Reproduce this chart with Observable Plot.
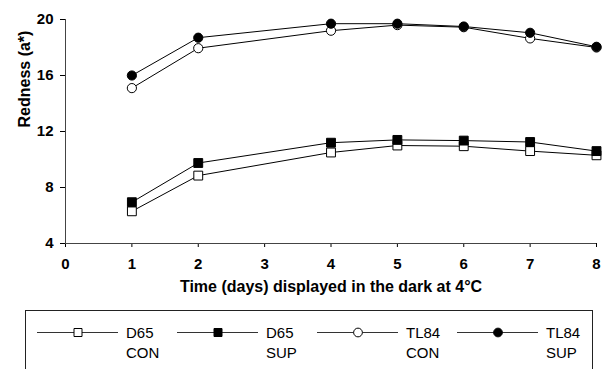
<!DOCTYPE html>
<html><head><meta charset="utf-8">
<script src="https://cdn.jsdelivr.net/npm/d3@7"></script>
<script src="https://cdn.jsdelivr.net/npm/@observablehq/plot@0.6"></script>
<style>
body{margin:0;background:#fff;font-family:"Liberation Sans",Arial,sans-serif;}
#wrap{position:relative;width:602px;height:369px;overflow:hidden;}
#legend{position:absolute;left:25px;top:310px;}
</style>
</head><body><div id="wrap"><div id="chart"></div><div id="legend"></div></div>
<script>
const days = [1, 2, 4, 5, 6, 7, 8];
const d65Con = [6.3, 8.85, 10.5, 11.0, 10.95, 10.6, 10.3];
const d65Sup = [6.95, 9.75, 11.2, 11.4, 11.35, 11.25, 10.6];
const tl84Con = [15.1, 17.95, 19.2, 19.6, 19.45, 18.65, 18.0];
const tl84Sup = [16.0, 18.7, 19.7, 19.7, 19.5, 19.05, 18.05];
const seriesNames = ["D65 CON", "D65 SUP", "TL84 CON", "TL84 SUP"];
const seriesValues = [d65Con, d65Sup, tl84Con, tl84Sup];
const seriesSymbols = ["square", "square", "circle", "circle"];
const seriesFills = ["white", "black", "white", "black"];
const xTicks = [0, 1, 2, 3, 4, 5, 6, 7, 8];
const yTicks = [4, 8, 12, 16, 20];
const xDomain = [0, 8];
const yDomain = [4, 20];
const xTitle = "Time (days) displayed in the dark at 4°C";
const yTitle = "Redness (a*)";

const rows = [];
seriesNames.forEach((name, i) => {
  days.forEach((d, j) => rows.push({series: name, day: d, value: seriesValues[i][j]}));
});

const dotMarks = seriesNames.map((name, i) => Plot.dot(rows.filter(r => r.series === name), {
  x: "day", y: "value", symbol: () => seriesSymbols[i], fill: seriesFills[i], stroke: "black", strokeWidth: 1,
  r: seriesSymbols[i] === "square" ? 5 : 4.6
}));

const chart = Plot.plot({
  width: 602, height: 305,
  marginLeft: 65, marginRight: 6, marginTop: 19, marginBottom: 62,
  style: {fontFamily: '"Liberation Sans", Arial, sans-serif', background: "white"},
  x: {domain: xDomain, ticks: xTicks},
  y: {domain: yDomain, ticks: yTicks},
  symbol: {type: "identity"},
  marks: [
    Plot.axisX({ticks: xTicks, tickSize: 4, tickPadding: 11, fontSize: 15, fontWeight: "bold", label: null, tickFormat: d => d, color: "black"}),
    Plot.axisY({ticks: yTicks, tickSize: 5, tickPadding: 7, fontSize: 15, fontWeight: "bold", label: null, tickFormat: d => d, color: "black"}),
    Plot.ruleX([xDomain[0]], {y1: yDomain[0], y2: yDomain[1], stroke: "#444"}),
    Plot.ruleY([yDomain[0]], {x1: xDomain[0], x2: xDomain[1], stroke: "#444"}),
    Plot.text([xTitle], {frameAnchor: "bottom", dy: 48, fontSize: 16, fontWeight: "bold", fill: "black"}),
    Plot.text([yTitle], {frameAnchor: "left", rotate: -90, dx: -41, dy: -4, fontSize: 16, fontWeight: "bold", fill: "black"}),
    ...seriesNames.map(name => Plot.line(rows.filter(r => r.series === name), {x: "day", y: "value", stroke: "black", strokeWidth: 1})),
    ...dotMarks
  ]
});
document.getElementById("chart").appendChild(chart);

// legend
const lw = 568, lh = 80, step = 140;
const svg = d3.select("#legend").append("svg").attr("width", lw).attr("height", lh)
  .style("font-family", '"Liberation Sans", Arial, sans-serif');
svg.append("rect").attr("x", 0.5).attr("y", 0.5).attr("width", lw - 1).attr("height", lh - 1)
  .attr("fill", "white").attr("stroke", "#222");
seriesNames.forEach((name, i) => {
  const g = svg.append("g").attr("transform", `translate(${12 + i * step},0)`);
  g.append("line").attr("x1", 0).attr("x2", 81).attr("y1", 22.5).attr("y2", 22.5).attr("stroke", "#333");
  const sym = d3.symbol().type(seriesSymbols[i] === "square" ? d3.symbolSquare : d3.symbolCircle)
    .size(seriesSymbols[i] === "square" ? 64 : 60);
  g.append("path").attr("d", sym()).attr("transform", "translate(41,22.5)")
    .attr("fill", seriesFills[i]).attr("stroke", "black");
  const parts = name.split(" ");
  g.append("text").attr("x", 89).attr("y", 27.5).attr("font-size", 15).text(parts[0]);
  g.append("text").attr("x", 89).attr("y", 47.5).attr("font-size", 15).text(parts[1]);
});
</script>
</body></html>
